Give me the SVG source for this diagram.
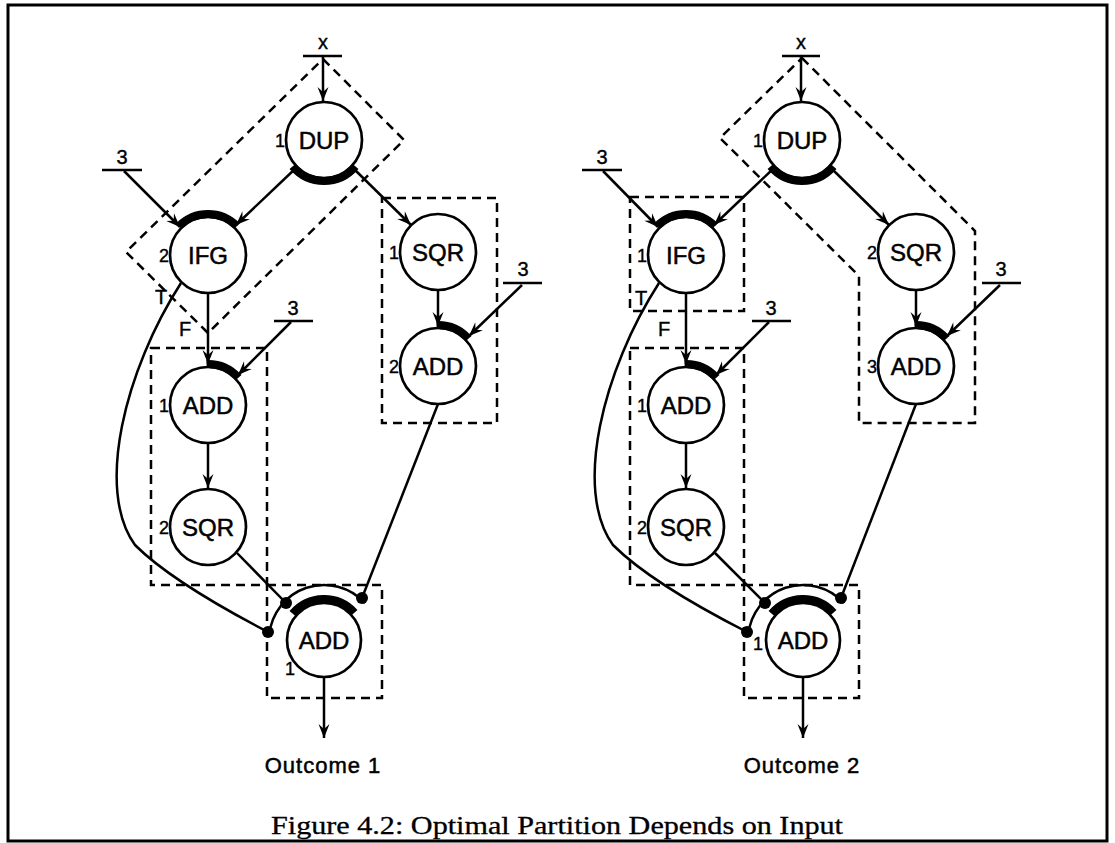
<svg xmlns="http://www.w3.org/2000/svg" width="1115" height="843" viewBox="0 0 1115 843">
<style>
  .nd circle.c { fill: #fff; stroke: #000; stroke-width: 2.7; }
  .lbl { font-family: "Liberation Sans", Arial, sans-serif; font-size: 24px; text-anchor: middle; fill: #000; stroke: #000; stroke-width: 0.5; }
  .num { font-family: "Liberation Sans", Arial, sans-serif; font-size: 18px; text-anchor: end; fill: #000; stroke: #000; stroke-width: 0.4; }
  .sm { font-family: "Liberation Sans", Arial, sans-serif; font-size: 20px; text-anchor: middle; fill: #000; stroke: #000; stroke-width: 0.4; }
  .out { font-family: "Liberation Sans", Arial, sans-serif; font-size: 22px; letter-spacing: 1px; text-anchor: middle; fill: #000; stroke: #000; stroke-width: 0.5; }
  .cap { font-family: "Liberation Serif", "Times New Roman", serif; font-size: 25px; text-anchor: middle; fill: #000; stroke: #000; stroke-width: 0.3; }
  .e { stroke: #000; stroke-width: 2.5; fill: none; }
  .ea { stroke: #000; stroke-width: 2.5; fill: none; marker-end: url(#ah); }
  .bar { stroke: #000; stroke-width: 2.5; fill: none; }
  .port { stroke: #000; stroke-width: 8; fill: none; }
  .ring { stroke: #000; stroke-width: 2.5; fill: none; }
  .blob { fill: #000; }
  .part { stroke: #000; stroke-width: 2.5; stroke-dasharray: 9 6; fill: none; }
</style>
<defs>
  <marker id="ah" markerUnits="userSpaceOnUse" viewBox="-15 -6 16 12" markerWidth="16" markerHeight="12" refX="0" refY="0" orient="auto">
    <path d="M0,0 L-14,-5.5 L-9,0 L-14,5.5 Z" fill="#000"/>
  </marker>
</defs>

<rect x="8" y="5" width="1099" height="836" fill="none" stroke="#000" stroke-width="3"/>

<!-- ===== LEFT: Outcome 1 ===== -->
<g id="L-partitions">
  <polygon class="part" points="323,59 404,140 208,333 126,252"/>
  <rect class="part" x="382" y="198" width="115" height="225"/>
  <rect class="part" x="151" y="348" width="116" height="237"/>
  <rect class="part" x="267" y="585" width="115" height="113"/>
</g>

<g id="L-connectors">
  <path class="ea" d="M323,57 V101"/>
  <path class="ea" d="M124,171 L180,227"/>
  <path class="ea" d="M296,168 L236,225"/>
  <path class="ea" d="M353,168 L411,225"/>
  <path class="ea" d="M208,293 V364"/>
  <path class="ea" d="M291,322 L238,375"/>
  <path class="ea" d="M438,290 V326"/>
  <path class="ea" d="M522,285 L469,336"/>
  <path class="ea" d="M208,443 V488"/>
  <path class="e" d="M237,553 L286,603"/>
  <path class="e" d="M438,404 L362,598"/>
  <path class="e" d="M181,283 C125,370 95,490 135,545 C165,575 220,607 268,632"/>
  <path class="ea" d="M324,678 V738"/>
</g>

<g id="L-in-x">
  <text class="sm" x="323" y="49">x</text>
  <path class="bar" d="M303,56 H342"/>
</g>
<g id="L-in-3a">
  <text class="sm" x="122" y="164">3</text>
  <path class="bar" d="M102,170 H142"/>
</g>
<g id="L-in-3b">
  <text class="sm" x="293" y="315">3</text>
  <path class="bar" d="M274,321 H313"/>
</g>
<g id="L-in-3c">
  <text class="sm" x="523" y="276">3</text>
  <path class="bar" d="M503,283 H542"/>
</g>

<g id="L-DUP" class="nd">
  <circle class="c" cx="324" cy="140" r="38"/>
  <path class="port" d="M355.4,166.4 A41,41 0 0 1 292.6,166.4"/>
  <text class="lbl" x="324" y="149">DUP</text>
  <text class="num" x="285" y="147">1</text>
</g>
<g id="L-IFG" class="nd">
  <circle class="c" cx="208" cy="255" r="38"/>
  <path class="port" d="M179,226 A41,41 0 0 1 237,226"/>
  <text class="lbl" x="208" y="264">IFG</text>
  <text class="num" x="169" y="262">2</text>
  <text class="sm" x="161" y="304">T</text>
  <text class="sm" x="185" y="336">F</text>
</g>
<g id="L-SQR1" class="nd">
  <circle class="c" cx="438" cy="252" r="38"/>
  <text class="lbl" x="438" y="261">SQR</text>
  <text class="num" x="399" y="259">1</text>
</g>
<g id="L-ADD2" class="nd">
  <circle class="c" cx="438" cy="366" r="38"/>
  <path class="port" d="M436.6,325 A41,41 0 0 1 468.5,338.6"/>
  <text class="lbl" x="438" y="375">ADD</text>
  <text class="num" x="399" y="373">2</text>
</g>
<g id="L-ADD1" class="nd">
  <circle class="c" cx="208" cy="405" r="38"/>
  <path class="port" d="M206.6,364 A41,41 0 0 1 238.5,377.6"/>
  <text class="lbl" x="208" y="414">ADD</text>
  <text class="num" x="169" y="412">1</text>
</g>
<g id="L-SQR2" class="nd">
  <circle class="c" cx="208" cy="527" r="38"/>
  <text class="lbl" x="208" y="536">SQR</text>
  <text class="num" x="169" y="534">2</text>
</g>
<g id="L-ADDF" class="nd">
  <path class="ring" d="M269.2,635.2 A55,55 0 0 1 364.9,603.2"/>
  <circle class="c" cx="324" cy="640" r="37"/>
  <path class="port" d="M292.6,613.6 A41,41 0 0 1 354.5,612.6"/>
  <circle class="blob" cx="268" cy="632" r="6"/>
  <circle class="blob" cx="286" cy="603" r="6"/>
  <circle class="blob" cx="362" cy="598" r="6"/>
  <text class="lbl" x="324" y="649">ADD</text>
  <text class="num" x="295" y="675">1</text>
</g>
<g id="L-outcome">
  <text class="out" x="323" y="773">Outcome 1</text>
</g>

<!-- ===== RIGHT: Outcome 2 ===== -->
<g id="R-partitions">
  <polygon class="part" points="802,58 975,231 975,423 859,423 859,276 720,138"/>
  <rect class="part" x="630" y="197" width="114" height="114"/>
  <rect class="part" x="630" y="348" width="114" height="237"/>
  <rect class="part" x="744" y="585" width="115" height="113"/>
</g>

<g id="R-connectors">
  <path class="ea" d="M801,57 V101"/>
  <path class="ea" d="M603,171 L658,227"/>
  <path class="ea" d="M774,168 L714,225"/>
  <path class="ea" d="M831,168 L889,225"/>
  <path class="ea" d="M686,293 V364"/>
  <path class="ea" d="M769,322 L716,375"/>
  <path class="ea" d="M916,290 V326"/>
  <path class="ea" d="M1000,285 L947,336"/>
  <path class="ea" d="M686,443 V488"/>
  <path class="e" d="M715,553 L765,603"/>
  <path class="e" d="M916,404 L841,598"/>
  <path class="e" d="M659,283 C603,370 573,490 613,545 C643,575 698,607 747,632"/>
  <path class="ea" d="M803,678 V738"/>
</g>

<g id="R-in-x">
  <text class="sm" x="801" y="49">x</text>
  <path class="bar" d="M782,56 H820"/>
</g>
<g id="R-in-3a">
  <text class="sm" x="602" y="164">3</text>
  <path class="bar" d="M582,170 H622"/>
</g>
<g id="R-in-3b">
  <text class="sm" x="771" y="315">3</text>
  <path class="bar" d="M752,321 H791"/>
</g>
<g id="R-in-3c">
  <text class="sm" x="1001" y="276">3</text>
  <path class="bar" d="M982,283 H1021"/>
</g>

<g id="R-DUP" class="nd">
  <circle class="c" cx="802" cy="140" r="38"/>
  <path class="port" d="M833.4,166.4 A41,41 0 0 1 770.6,166.4"/>
  <text class="lbl" x="802" y="149">DUP</text>
  <text class="num" x="763" y="147">1</text>
</g>
<g id="R-IFG" class="nd">
  <circle class="c" cx="686" cy="255" r="38"/>
  <path class="port" d="M657,226 A41,41 0 0 1 715,226"/>
  <text class="lbl" x="686" y="264">IFG</text>
  <text class="num" x="647" y="262">1</text>
  <text class="sm" x="641" y="305">T</text>
  <text class="sm" x="664" y="336">F</text>
</g>
<g id="R-SQR1" class="nd">
  <circle class="c" cx="916" cy="252" r="38"/>
  <text class="lbl" x="916" y="261">SQR</text>
  <text class="num" x="877" y="259">2</text>
</g>
<g id="R-ADD3" class="nd">
  <circle class="c" cx="916" cy="366" r="38"/>
  <path class="port" d="M914.6,325 A41,41 0 0 1 946.5,338.6"/>
  <text class="lbl" x="916" y="375">ADD</text>
  <text class="num" x="877" y="373">3</text>
</g>
<g id="R-ADD1" class="nd">
  <circle class="c" cx="686" cy="405" r="38"/>
  <path class="port" d="M684.6,364 A41,41 0 0 1 716.5,377.6"/>
  <text class="lbl" x="686" y="414">ADD</text>
  <text class="num" x="647" y="412">1</text>
</g>
<g id="R-SQR2" class="nd">
  <circle class="c" cx="686" cy="527" r="38"/>
  <text class="lbl" x="686" y="536">SQR</text>
  <text class="num" x="647" y="534">2</text>
</g>
<g id="R-ADDF" class="nd">
  <path class="ring" d="M748.2,635.2 A55,55 0 0 1 843.9,603.2"/>
  <circle class="c" cx="803" cy="640" r="37"/>
  <path class="port" d="M771.6,613.6 A41,41 0 0 1 833.5,612.6"/>
  <circle class="blob" cx="747" cy="632" r="6"/>
  <circle class="blob" cx="765" cy="603" r="6"/>
  <circle class="blob" cx="841" cy="598" r="6"/>
  <text class="lbl" x="803" y="649">ADD</text>
  <text class="num" x="763" y="650">1</text>
</g>
<g id="R-outcome">
  <text class="out" x="802" y="773">Outcome 2</text>
</g>

<text class="cap" x="557" y="834" textLength="572" lengthAdjust="spacingAndGlyphs">Figure 4.2: Optimal Partition Depends on Input</text>
</svg>
